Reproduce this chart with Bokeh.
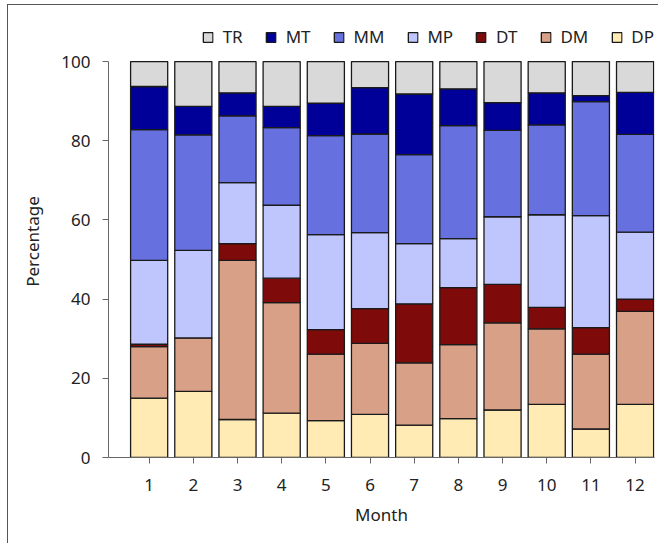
from bokeh.plotting import figure
from bokeh.models import ColumnDataSource, Range1d, Legend, LegendItem, FixedTicker
from bokeh.embed import file_html
from bokeh.resources import INLINE

months = [1, 2, 3, 4, 5, 6, 7, 8, 9, 10, 11, 12]
DP = [15.0, 16.7, 9.6, 11.2, 9.3, 10.9, 8.2, 9.8, 12.0, 13.4, 7.2, 13.4]
DM = [13.0, 13.5, 40.2, 27.9, 16.8, 17.9, 15.7, 18.7, 22.0, 19.1, 18.9, 23.5]
DT = [0.6, 0.0, 4.2, 6.2, 6.2, 8.8, 14.9, 14.4, 9.7, 5.4, 6.7, 3.1]
MP = [21.2, 22.1, 15.4, 18.4, 24.0, 19.2, 15.2, 12.4, 17.1, 23.4, 28.3, 16.9]
MM = [33.0, 29.2, 16.9, 19.6, 25.0, 24.9, 22.5, 28.5, 21.8, 22.7, 28.8, 24.7]
MT = [10.9, 7.2, 5.8, 5.4, 8.2, 11.7, 15.3, 9.3, 7.0, 8.1, 1.5, 10.6]
TR = [6.3, 11.3, 7.9, 11.3, 10.5, 6.6, 8.2, 6.9, 10.4, 7.9, 8.6, 7.8]
y_ticks = [0, 20, 40, 60, 80, 100]

stack_names = ["DP", "DM", "DT", "MP", "MM", "MT", "TR"]
colors = ["#ffebb3", "#d9a088", "#7f0a0a", "#bfc6fd", "#6670de", "#000099", "#d9d9d9"]

source = ColumnDataSource(dict(month=months, DP=DP, DM=DM, DT=DT, MP=MP, MM=MM, MT=MT, TR=TR))

# frame extends above 100 to host the legend; axis line is bounded to 0..100
p = figure(width=651, height=539, output_backend="svg", toolbar_location=None,
           x_range=Range1d(0.08, 12.44), y_range=Range1d(0, 109.1),
           min_border_left=100, min_border_right=5, min_border_top=20, min_border_bottom=87,
           styles={"border-left": "1px solid #555", "border-top": "1px solid #555",
                   "margin-left": "7px", "margin-top": "4px"})

renderers = p.vbar_stack(stack_names, x="month", width=0.84, source=source,
                         fill_color=colors, line_color="#1a1a1a", line_width=1.3)

p.xgrid.visible = False
p.ygrid.visible = False
p.outline_line_color = None

font = "Noto Sans"
for ax in (p.xaxis[0], p.yaxis[0]):
    ax.axis_line_color = "#666666"
    ax.major_tick_line_color = "#666666"
    ax.minor_tick_line_color = None
    ax.major_tick_out = 6
    ax.major_tick_in = 0
    ax.major_label_text_font = font
    ax.major_label_text_font_size = "17px"
    ax.major_label_text_color = "#222222"
    ax.axis_label_text_font = font
    ax.axis_label_text_font_size = "17px"
    ax.axis_label_text_font_style = "normal"
    ax.axis_label_text_color = "#222222"

p.yaxis.bounds = (0, 100)
p.xaxis.ticker = FixedTicker(ticks=months)
p.yaxis.ticker = FixedTicker(ticks=y_ticks)
p.xaxis.axis_label = "Month"
p.yaxis.axis_label = "Percentage"
p.xaxis.major_label_standoff = 15
p.yaxis.major_label_standoff = 12
p.xaxis.axis_label_standoff = 9
p.yaxis.axis_label_standoff = 14

items = [LegendItem(label=name, renderers=[r]) for name, r in zip(stack_names, renderers)][::-1]
legend = Legend(items=items, orientation="horizontal", location="top_right",
                label_text_font=font, label_text_font_size="17px", label_text_color="#222222",
                glyph_width=12, glyph_height=12, label_standoff=9, spacing=22,
                padding=3, margin=0, border_line_color=None, background_fill_alpha=0)
p.add_layout(legend, "center")

open("out.html", "w").write(file_html(p, INLINE))
